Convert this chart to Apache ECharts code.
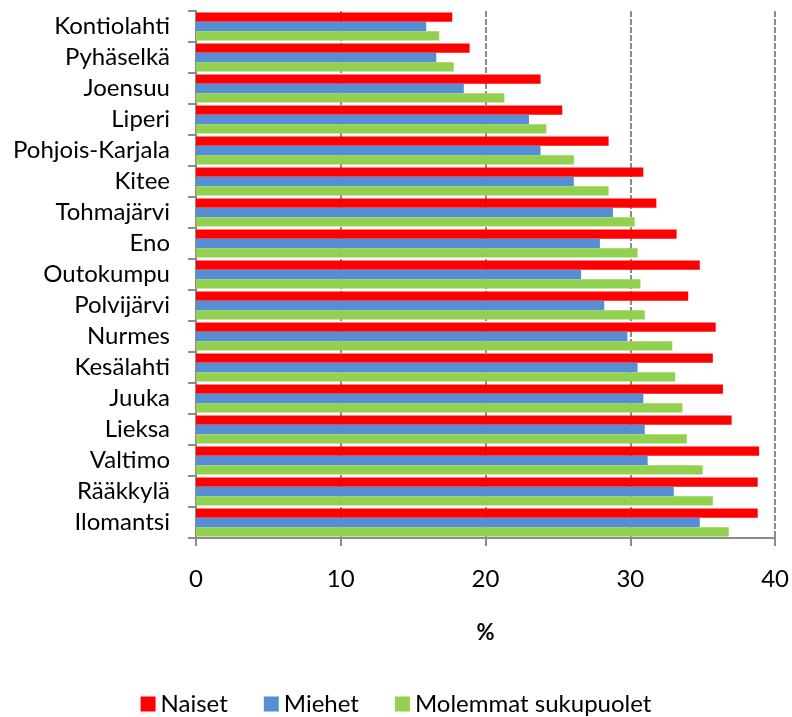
<!DOCTYPE html>
<html><head><meta charset="utf-8">
<script src="https://cdn.jsdelivr.net/npm/echarts@6/dist/echarts.min.js"></script>
<style>html,body{margin:0;padding:0;background:#fff}#c{width:792px;height:717px}</style>
</head><body><div id="c"></div>
<script>
const categories = ["Kontiolahti","Pyhäselkä","Joensuu","Liperi","Pohjois-Karjala","Kitee","Tohmajärvi","Eno","Outokumpu","Polvijärvi","Nurmes","Kesälahti","Juuka","Lieksa","Valtimo","Rääkkylä","Ilomantsi"];
const naiset  = [17.7,18.9,23.8,25.3,28.5,30.9,31.8,33.2,34.8,34.0,35.9,35.7,36.4,37.0,38.9,38.8,38.8];
const miehet  = [15.9,16.6,18.5,23.0,23.8,26.1,28.8,27.9,26.6,28.2,29.8,30.5,30.9,31.0,31.2,33.0,34.8];
const molemmat= [16.8,17.8,21.3,24.2,26.1,28.5,30.3,30.5,30.7,31.0,32.9,33.1,33.6,33.9,35.0,35.7,36.8];
const seriesNames = ["Naiset","Miehet","Molemmat sukupuolet"];
const xTicks = {min:0, max:40, interval:10};

const FONT = "Lato";
const axisColor = "#8c8c8c";
const chart = echarts.init(document.getElementById('c'));
chart.setOption({
  animation:false,
  textStyle:{fontFamily:FONT},
  grid:{left:196,right:16,top:11,bottom:179,containLabel:false},
  legend:{
    top:687,left:'center',itemWidth:15,itemHeight:15,itemGap:36,icon:'rect',
    textStyle:{fontFamily:FONT,fontSize:24,color:'#000'},
    data:seriesNames
  },
  xAxis:{
    type:'value',min:xTicks.min,max:xTicks.max,interval:xTicks.interval,
    name:'%',nameLocation:'middle',nameGap:84,
    nameTextStyle:{fontFamily:FONT,fontSize:22,fontWeight:'bold',color:'#000'},
    axisLine:{show:true,lineStyle:{color:axisColor,width:2}},
    axisTick:{show:true,length:8,lineStyle:{color:axisColor,width:2}},
    axisLabel:{fontFamily:FONT,fontSize:24,color:'#000',margin:29},
    splitLine:{show:true,lineStyle:{color:'#8c8c8c',width:2,type:[6,2]}}
  },
  yAxis:{
    type:'category',data:categories,inverse:true,
    axisLine:{show:true,lineStyle:{color:axisColor,width:2}},
    axisTick:{show:true,length:8,lineStyle:{color:axisColor,width:2}},
    axisLabel:{fontFamily:FONT,fontSize:24,color:'#000',margin:26,interval:0}
  },
  series:[
    {name:seriesNames[0],type:'bar',data:naiset,itemStyle:{color:'#ff0000'},barGap:'0%',barCategoryGap:'9%'},
    {name:seriesNames[1],type:'bar',data:miehet,itemStyle:{color:'#558ed5'},barGap:'0%',barCategoryGap:'9%'},
    {name:seriesNames[2],type:'bar',data:molemmat,itemStyle:{color:'#92d050'},barGap:'0%',barCategoryGap:'9%'}
  ]
});
</script></body></html>
